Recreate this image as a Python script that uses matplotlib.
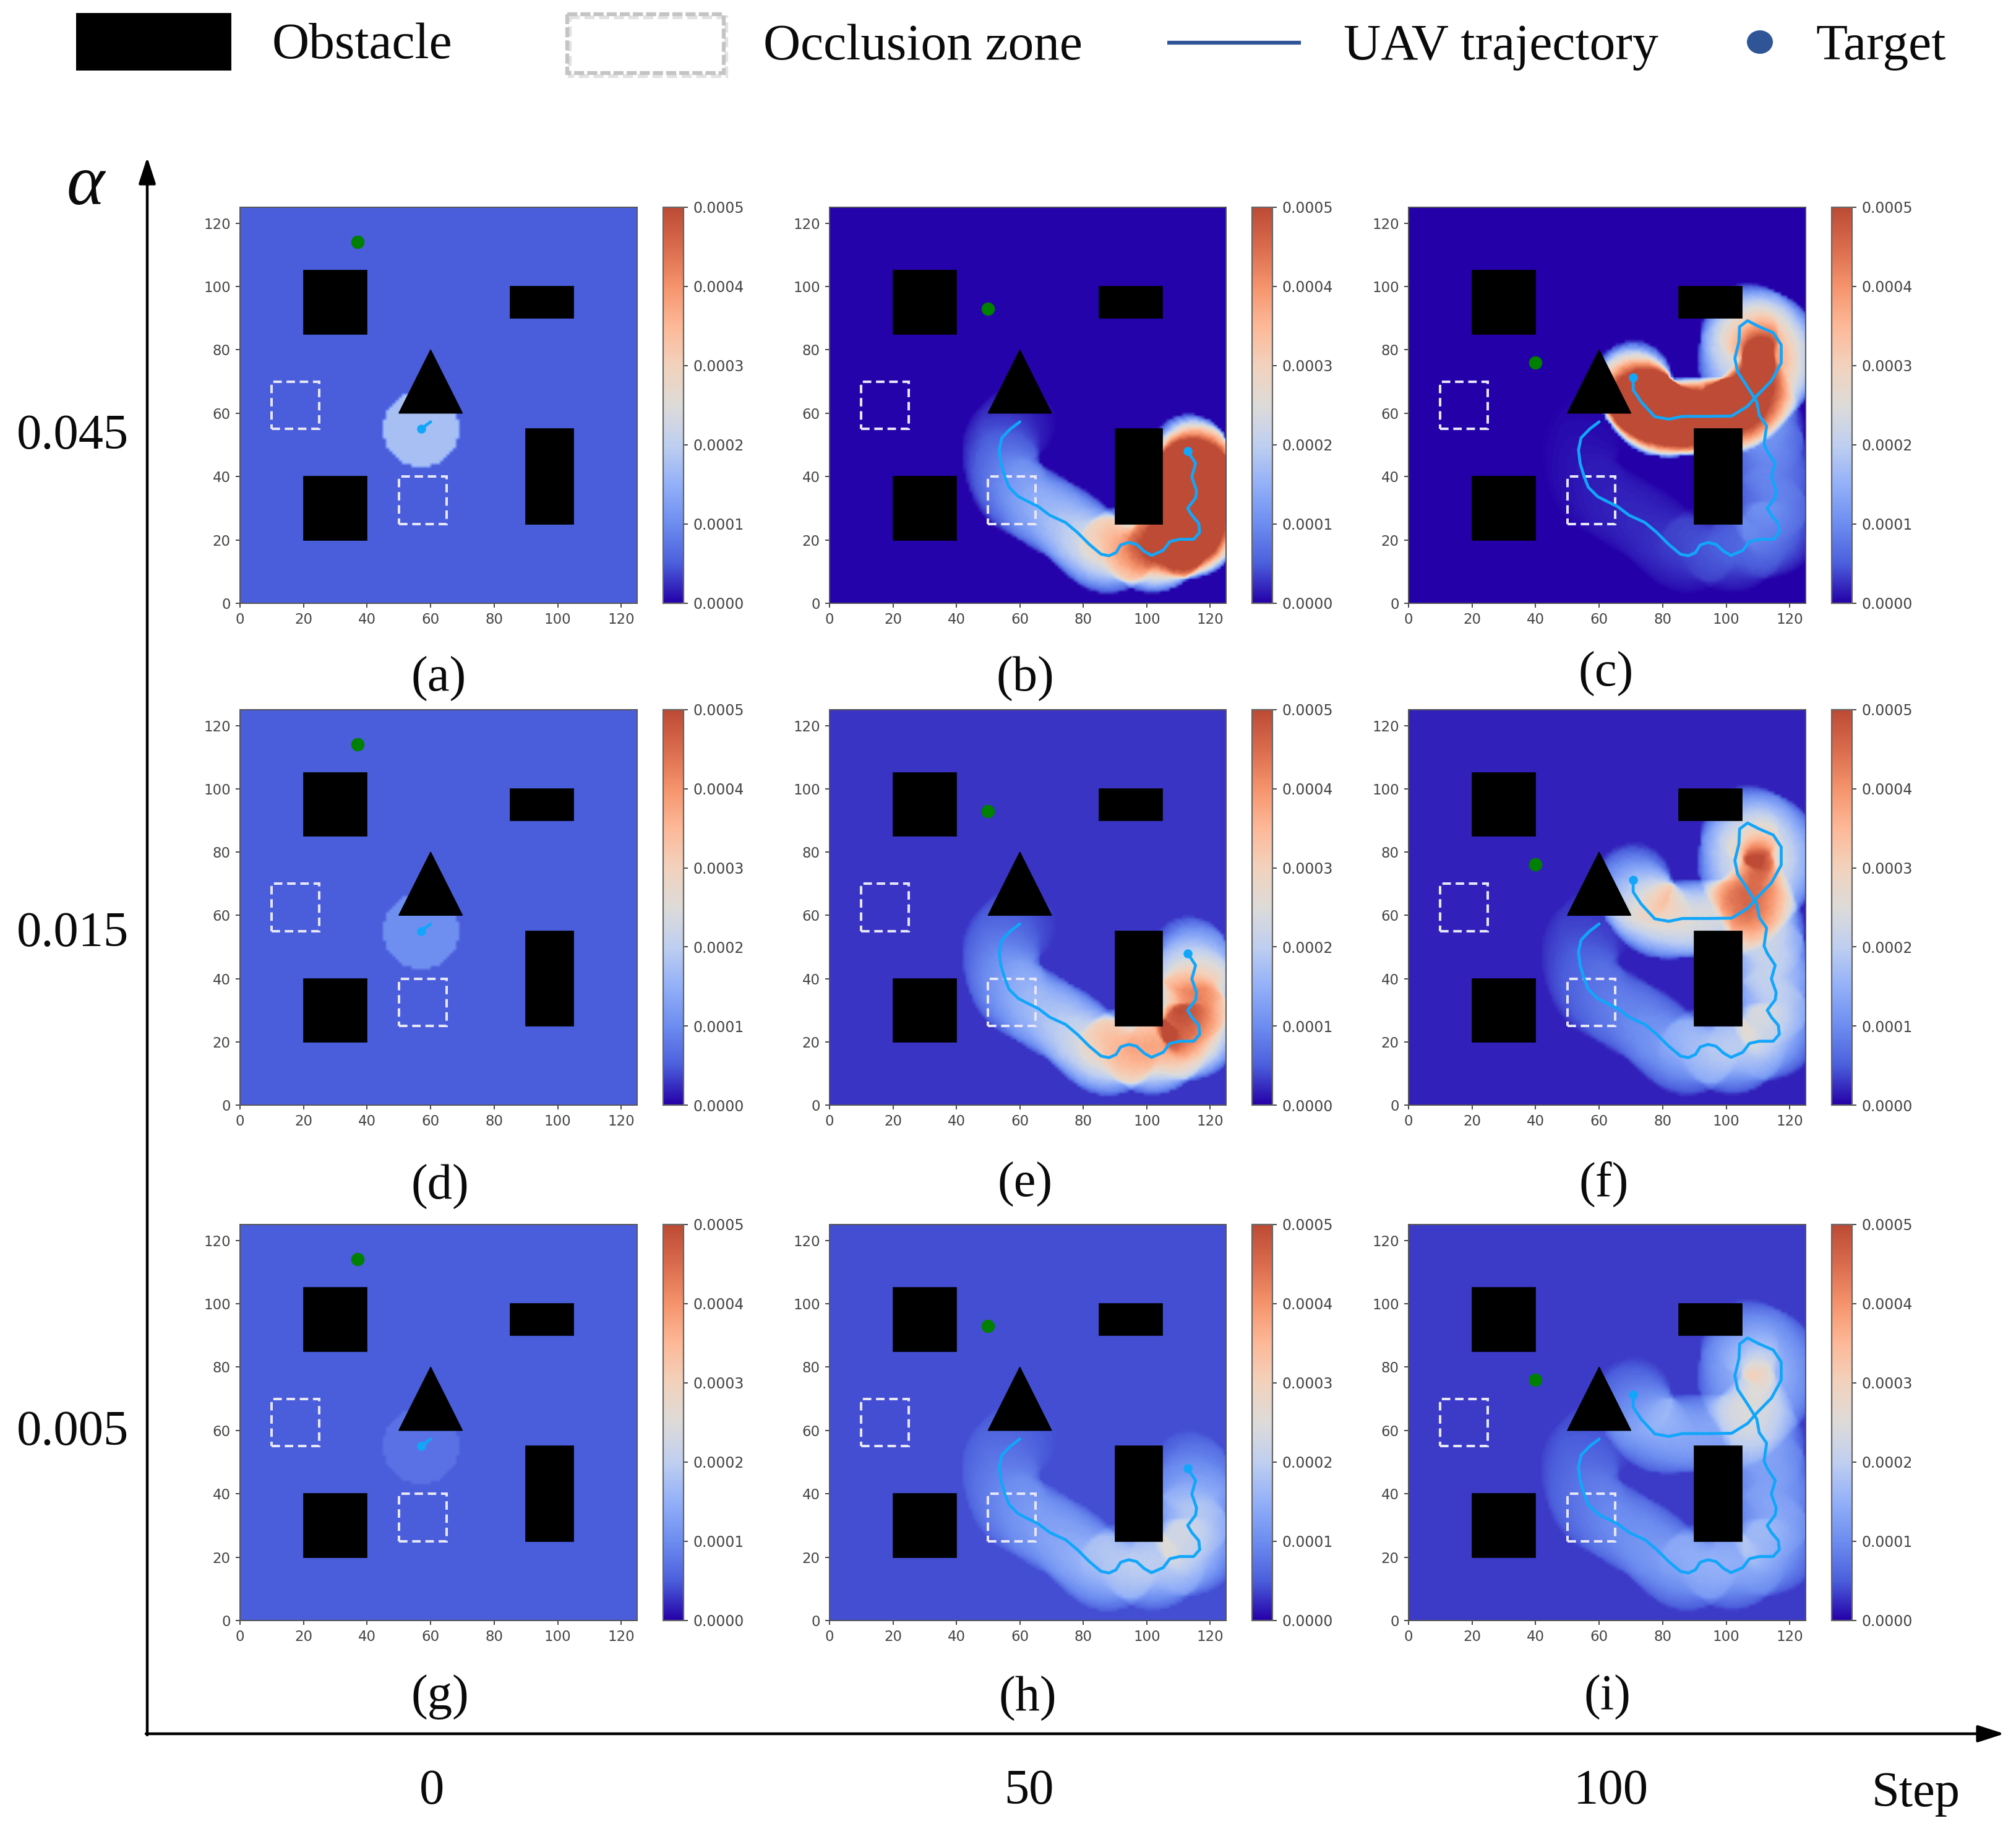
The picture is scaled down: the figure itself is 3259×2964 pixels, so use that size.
import numpy as np
import matplotlib
matplotlib.use("Agg")
import matplotlib.pyplot as plt
from matplotlib.colors import LinearSegmentedColormap
from matplotlib.patches import Rectangle, Polygon, Ellipse

W, H = 3259, 2964
SERIF = "Liberation Serif"

# ---- data ----
ALPHAS = ["0.045", "0.015", "0.005"]
STEPS = ["0", "50", "100"]
PANEL_LABELS = [["(a)", "(b)", "(c)"], ["(d)", "(e)", "(f)"], ["(g)", "(h)", "(i)"]]

PATH_X = [60, 57, 54.3, 53.5, 54, 55.3, 56.6, 59.5, 62.6, 65.7, 69.4, 74.4, 78.1, 81.9, 85.6,
          88.1, 90.3, 91.8, 94.3, 96.8, 99.2, 101.5, 105.2, 107.3, 110.4, 114.8, 116.7, 116.4,
          114.2, 112.9, 115.4, 115.7, 114.2, 115.4, 112.9, 111.9, 112.7, 110.4, 109.6, 106.7,
          103.6, 102.7, 104, 104.2, 106.7, 110.4, 114.8, 117.3, 117.3, 114.2, 109.6, 106.7,
          101.7, 94.3, 86.2, 81.9, 77.5, 73.2, 70.7, 70.7]
PATH_Y = [57.3, 55, 52.2, 48.4, 44.2, 39.9, 36.6, 33.7, 32.1, 30.6, 27.8, 25.5, 22.4, 18.6, 15.5,
          15, 16, 18.4, 19.2, 18.6, 16.4, 15.1, 16.7, 19.5, 20.2, 20.2, 22.4, 25.2,
          27.8, 30, 33.3, 35.6, 39.9, 44.2, 48, 50.3, 56, 59.3, 63.6, 68.3,
          73, 77.3, 82.6, 87.3, 89.2, 87.3, 85.4, 81.6, 75.9, 70.2, 65.5, 62.2,
          59.1, 59, 59, 58.1, 58.9, 63.6, 67.4, 71.2]
WAYPOINTS_AT_STEP = [2, 35, 60]
TARGET_X = [37, 50, 40]
TARGET_Y = [114, 93, 76]

BASE = [[0.5, 0.02, 0.0], [0.5, 0.28, 0.18], [0.5, 0.42, 0.32]]   # 1e-4
START_DISC = [1.75, 1.05, 0.72]                                   # 1e-4

LEVEL_B = [0.5, 0.5, 0.6, 0.7, 0.9, 1.0, 1.2, 1.4, 1.5, 1.6, 1.7, 1.9, 2.2, 2.6, 3.0, 3.0, 3.2, 3.2,
           3.4, 3.8, 4.2, 4.8, 5.5, 6.5, 8, 9, 10, 10, 10, 10, 10, 11, 12, 14, 16]
LEVEL_C = [0.1, 0.1, 0.1, 0.1, 0.1, 0.15, 0.15, 0.2, 0.2, 0.2, 0.2, 0.25, 0.25, 0.3, 0.35, 0.35, 0.4,
           0.4, 0.4, 0.4, 0.45, 0.5, 0.5, 0.6, 0.7, 0.8, 0.8, 0.8, 0.8, 0.8, 0.8, 0.8, 0.8, 0.9, 0.9,
           1.0, 1.2, 1.4, 1.7, 2.1, 2.5, 2.8, 3.0, 3.1, 3.2, 3.2, 3.3, 3.3, 3.4, 3.6, 4, 5, 6, 7, 8,
           9, 10, 11, 12, 14]
LEVEL_E = [0.5, 0.5, 0.6, 0.7, 0.9, 1.1, 1.2, 1.3, 1.4, 1.5, 1.6, 1.8, 2.0, 2.4, 2.7, 2.9, 3.0, 3.0,
           3.0, 3.0, 3.0, 2.9, 2.8, 2.9, 3.2, 3.6, 3.8, 4.0, 3.8, 3.4, 3.2, 3.2, 3.4, 3.8, 4.2]
LEVEL_F = [0.3, 0.3, 0.3, 0.3, 0.4, 0.5, 0.6, 0.6, 0.7, 0.7, 0.8, 0.9, 1.0, 1.1, 1.2, 1.3, 1.4, 1.4,
           1.5, 1.5, 1.5, 1.6, 1.6, 1.6, 1.6, 1.6, 1.6, 1.6, 1.6, 1.6, 1.7, 1.7, 1.7, 1.8, 1.9,
           2.0, 2.1, 2.2, 2.2, 2.2, 2.1, 2.1, 2.1, 2.1, 2.1, 2.1, 2.1, 2.1, 2.0, 2.0, 2.0, 2.1, 2.2,
           2.2, 2.3, 2.5, 2.7, 3.0, 3.4, 4.0]
LEVEL_H = [0.3, 0.3, 0.4, 0.4, 0.5, 0.6, 0.7, 0.8, 0.8, 0.9, 0.9, 1.0, 1.1, 1.2, 1.3, 1.3, 1.3, 1.3,
           1.3, 1.3, 1.3, 1.3, 1.4, 1.4, 1.4, 1.4, 1.5, 1.5, 1.4, 1.3, 1.2, 1.2, 1.2, 1.3, 1.5]
LEVEL_I = [0.3, 0.3, 0.3, 0.3, 0.4, 0.5, 0.6, 0.6, 0.7, 0.7, 0.8, 0.8, 0.9, 0.9, 1.0, 1.0, 1.0, 1.0,
           1.0, 1.0, 1.0, 1.0, 1.0, 1.0, 1.0, 1.0, 1.0, 1.0, 1.0, 0.9, 0.9, 0.9, 0.9, 0.9, 0.9,
           0.9, 1.0, 1.0, 1.0, 1.1, 1.1, 1.1, 1.1, 1.1, 1.1, 1.1, 1.1, 1.1, 1.1, 1.1, 1.0, 1.0, 1.0,
           1.0, 1.0, 1.1, 1.1, 1.2, 1.3, 1.5]
LEVELS = [[None, LEVEL_B, LEVEL_C], [None, LEVEL_E, LEVEL_F], [None, LEVEL_H, LEVEL_I]]

CB_TICKS = [0, 0.0001, 0.0002, 0.0003, 0.0004, 0.0005]
AX_TICKS = [0, 20, 40, 60, 80, 100, 120]

OBSTACLE_RECTS = [(20, 85, 20, 20), (85, 90, 20, 10), (90, 25, 15, 30), (20, 20, 20, 20)]
OBSTACLE_TRI = [(50, 60), (70, 60), (60, 80)]
OCCLUSION_RECTS = [(10, 55, 15, 15), (50, 25, 15, 15)]

CMAP_COLORS = ["#2400a8", "#4b5fdc", "#6d8df0", "#93b0f8", "#bfcff0", "#dddbd9",
               "#f2d2bd", "#fdb998", "#f5946d", "#da6c4d", "#bd4b35"]
cmap = LinearSegmentedColormap.from_list("uav", CMAP_COLORS, N=256)

RADIUS = 12.0
COL_X = [(388, 1030, 1072, 1105), (1341, 1982, 2024, 2057), (2277, 2919, 2961, 2994)]
ROW_Y = [(335, 975), (1147, 1786), (1979, 2619)]


def field(row, col):
    c = (np.arange(125) + 0.5)
    gx, gy = np.meshgrid(c, c)
    z = np.full(gx.shape, BASE[row][col], dtype=float)
    if col == 0:
        z[(gx - PATH_X[1]) ** 2 + (gy - PATH_Y[1]) ** 2 <= RADIUS ** 2] += START_DISC[row] - BASE[row][col]
    else:
        lev = LEVELS[row][col]
        for i in range(len(lev) - 1):
            seg = np.hypot(PATH_X[i + 1] - PATH_X[i], PATH_Y[i + 1] - PATH_Y[i])
            n = max(1, int(seg / 0.6))
            for k in range(n):
                t = (k + 0.5) / n
                px = PATH_X[i] + t * (PATH_X[i + 1] - PATH_X[i])
                py = PATH_Y[i] + t * (PATH_Y[i + 1] - PATH_Y[i])
                z[(gx - px) ** 2 + (gy - py) ** 2 <= RADIUS ** 2] += lev[i] * (seg / n) / (2 * RADIUS)
    return z * 1e-4


def box(l, r, t, b):
    return [l / W, 1 - b / H, (r - l) / W, (b - t) / H]


fig = plt.figure(figsize=(W / 100, H / 100), dpi=100, facecolor="white")
TICK = "#454545"

for row in range(3):
    t, b = ROW_Y[row]
    for col in range(3):
        l, r, cl, cr = COL_X[col]
        ax = fig.add_axes(box(l, r, t, b))
        im = ax.imshow(field(row, col), origin="lower", extent=(0, 125, 0, 125), cmap=cmap,
                       vmin=0, vmax=0.0005, interpolation="bilinear", aspect="auto")
        for (x, y, w, h) in OBSTACLE_RECTS:
            ax.add_patch(Rectangle((x, y), w, h, fc="black", ec="black", lw=1.2, zorder=3))
        ax.add_patch(Polygon(OBSTACLE_TRI, closed=True, fc="black", ec="black", lw=1.0, zorder=3))
        for (x, y, w, h) in OCCLUSION_RECTS:
            ax.add_patch(Rectangle((x, y), w, h, fill=False, ec="#e6e6f6", lw=2.9,
                                   ls=(0, (3.4, 1.9)), zorder=4))
        n = WAYPOINTS_AT_STEP[col]
        ax.plot(PATH_X[:n], PATH_Y[:n], color="#12a6fa", lw=3.4, zorder=5, solid_capstyle="round",
                solid_joinstyle="round")
        ax.plot(PATH_X[n - 1], PATH_Y[n - 1], "o", color="#12a6fa", ms=10.5, mew=0, zorder=5)
        ax.plot(TARGET_X[col], TARGET_Y[col], "o", color="#008000", ms=15.5, mew=0, zorder=6)
        ax.set_xlim(0, 125)
        ax.set_ylim(0, 125)
        ax.set_xticks(AX_TICKS)
        ax.set_yticks(AX_TICKS)
        ax.tick_params(length=5, width=1.4, colors=TICK, labelsize=16.5, pad=6)
        for s in ax.spines.values():
            s.set_color("#555555")
            s.set_linewidth(1.4)
        cax = fig.add_axes(box(cl, cr, t, b))
        cb = fig.colorbar(im, cax=cax, ticks=CB_TICKS, format="%.4f")
        cb.ax.tick_params(length=5, width=1.4, colors=TICK, labelsize=17, pad=6)
        cb.outline.set_edgecolor("#666666")
        cb.outline.set_linewidth(1.6)

ov = fig.add_axes([0, 0, 1, 1], facecolor="none", zorder=10)
ov.set_xlim(0, W)
ov.set_ylim(H, 0)
ov.axis("off")


def label(x, y, s, size=58, **kw):
    ov.text(x, y, s, family=SERIF, fontsize=size, ha="center", va="center", color="#0a0a0a", **kw)


# legend
ov.add_patch(Rectangle((123, 21), 251, 93, fc="black", ec="none"))
ov.add_patch(Rectangle((921, 28), 253, 95, fill=False, ec="#e2e2e2", lw=4.5, ls=(0, (2.6, 1.2))))
ov.add_patch(Rectangle((917, 23), 253, 95, fill=False, ec="#c4c4c4", lw=4.5, ls=(0, (2.6, 0.8))))
ov.plot([1887, 2103], [69, 69], color="#2f5597", lw=4.5, solid_capstyle="butt")
ov.add_patch(Ellipse((2845, 68), 42, 38, fc="#2f5597", ec="none"))
ov.text(440, 74, "Obstacle", family=SERIF, fontsize=60, ha="left", va="center", color="#0a0a0a")
ov.text(1234, 76, "Occlusion zone", family=SERIF, fontsize=60, ha="left", va="center", color="#0a0a0a")
ov.text(2172, 76, "UAV trajectory", family=SERIF, fontsize=60, ha="left", va="center", color="#0a0a0a")
ov.text(2935, 76, "Target", family=SERIF, fontsize=60, ha="left", va="center", color="#0a0a0a")

# big arrows
AP = dict(arrowstyle="-|>,head_length=1.3,head_width=0.42", color="black", lw=3.2,
          shrinkA=0, shrinkB=0, mutation_scale=20)
ov.annotate("", xy=(238, 254), xytext=(238, 2804), arrowprops=AP)
ov.annotate("", xy=(3240, 2802), xytext=(236, 2802), arrowprops=AP)

label(138, 302, "\u03b1", size=84, style="italic")
for y, s in zip([706, 1509, 2316], ALPHAS):
    label(117, y, s)
for x, s in zip([698, 1663, 2604], STEPS):
    label(x, 2896, s)
label(3097, 2900, "Step")

LABEL_POS = [[(709, 1097), (1657, 1097), (2596, 1089)],
             [(711, 1918), (1657, 1914), (2593, 1914)],
             [(711, 2743), (1661, 2745), (2598, 2743)]]
for r in range(3):
    for c in range(3):
        label(LABEL_POS[r][c][0], LABEL_POS[r][c][1], PANEL_LABELS[r][c])

fig.savefig("out.png", dpi=100, facecolor="white")
